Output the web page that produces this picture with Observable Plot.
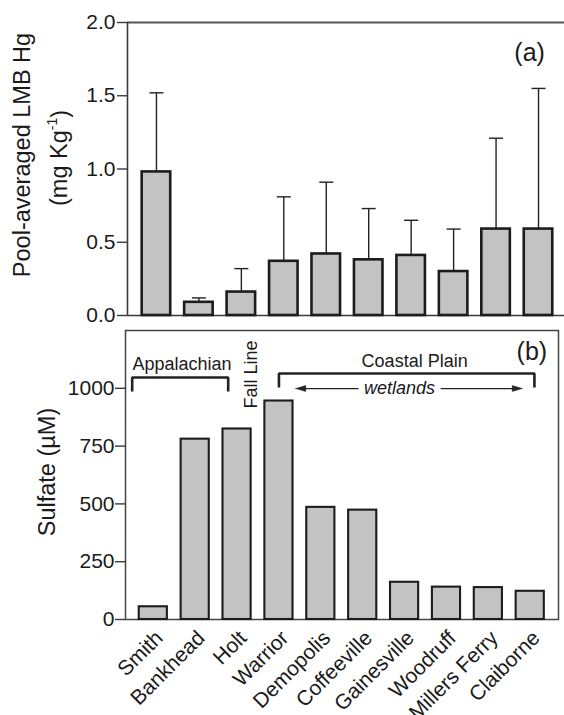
<!DOCTYPE html>
<html>
<head>
<meta charset="utf-8">
<script src="https://cdn.jsdelivr.net/npm/d3@7"></script>
<script src="https://cdn.jsdelivr.net/npm/@observablehq/plot@0.6"></script>
<style>
  html, body { margin: 0; padding: 0; background: #fff; }
  #chart { width: 564px; height: 715px; overflow: hidden; }
  #chart svg { display: block; }
</style>
</head>
<body>
<div id="chart"></div>
<script>
// ---- data ----
const sites = ["Smith", "Bankhead", "Holt", "Warrior", "Demopolis", "Coffeeville", "Gainesville", "Woodruff", "Millers Ferry", "Claiborne"];
const hgMean = [0.98, 0.09, 0.16, 0.37, 0.42, 0.38, 0.41, 0.30, 0.59, 0.59];
const hgSD   = [0.54, 0.03, 0.16, 0.44, 0.49, 0.35, 0.24, 0.29, 0.62, 0.96];
const sulfate = [55, 780, 824, 945, 485, 473, 161, 140, 138, 122];
const hgTicks = [0, 0.5, 1.0, 1.5, 2.0];
const sulfateTicks = [0, 250, 500, 750, 1000];

const rows = sites.map((site, i) => ({site, i, hg: hgMean[i], sd: hgSD[i], so4: sulfate[i]}));

// ---- styling ----
const FONT = "'Liberation Sans', Arial, Helvetica, sans-serif";
const BAR_FILL = "#c3c3c3";
const BAR_STROKE = "#1c1c1c";
const AXIS = "#3a3a3a";
const INK = "#1a1a1a";
const HALF = 0.336;      // half bar width in site-index units
const CAP = 0.165;       // half error cap width

// ---- panel (a) ----
const xDomA = [-0.682, 9.612];
const panelA = Plot.plot({
  width: 564, height: 322,
  marginLeft: 127, marginRight: 0, marginTop: 22, marginBottom: 7,
  x: {domain: xDomA, axis: null},
  y: {domain: [0, 2], axis: null},
  style: {fontFamily: FONT, color: INK, background: "transparent", overflow: "visible"},
  marks: [
    Plot.ruleY([2], {stroke: "#555", strokeWidth: 1.8}),
    Plot.ruleY([0], {stroke: AXIS, strokeWidth: 1.6}),
    Plot.ruleX([xDomA[0]], {stroke: AXIS, strokeWidth: 1.6}),
    Plot.axisY({ticks: hgTicks, tickFormat: d3.format(".1f"), tickSize: 10, tickPadding: 2, fontSize: 21, label: null, stroke: AXIS, strokeWidth: 1.4}),
    // error bars (upward only)
    Plot.link(rows, {x1: "i", x2: "i", y1: "hg", y2: d => d.hg + d.sd, stroke: "#222", strokeWidth: 1.4}),
    Plot.link(rows, {x1: d => d.i - CAP, x2: d => d.i + CAP, y1: d => d.hg + d.sd, y2: d => d.hg + d.sd, stroke: "#222", strokeWidth: 1.4}),
    Plot.rect(rows, {x1: d => d.i - HALF, x2: d => d.i + HALF, y1: 0, y2: "hg", fill: BAR_FILL, stroke: BAR_STROKE, strokeWidth: 2.6}),
    Plot.text(["(a)"], {x: 8.79, y: 1.795, fontSize: 25, textAnchor: "middle"})
  ]
});

// ---- panel (b) ----
const xDomB = [-0.664, 9.675];
const brackets = [
  {g: "App", x: -0.504, y: 986}, {g: "App", x: -0.504, y: 1047}, {g: "App", x: 1.788, y: 1047}, {g: "App", x: 1.788, y: 986},
  {g: "CP", x: 3.0, y: 1003}, {g: "CP", x: 3.0, y: 1064}, {g: "CP", x: 9.10, y: 1064}, {g: "CP", x: 9.10, y: 1003}
];
// wetlands arrow shafts and filled heads
const shafts = [
  {x1: 4.90, x2: 3.62, y: 999},
  {x1: 6.86, x2: 8.59, y: 999}
];
const heads = [
  {g: "L", x: 3.40, y: 999}, {g: "L", x: 3.64, y: 1012}, {g: "L", x: 3.64, y: 986}, {g: "L", x: 3.40, y: 999},
  {g: "R", x: 8.81, y: 999}, {g: "R", x: 8.57, y: 1012}, {g: "R", x: 8.57, y: 986}, {g: "R", x: 8.81, y: 999}
];
const notes = [
  {t: "Appalachian", x: 0.685, y: 1106, rotate: 0, italic: false},
  {t: "Coastal Plain", x: 6.24, y: 1119, rotate: 0, italic: false},
  {t: "wetlands", x: 5.88, y: 999, rotate: 0, italic: true},
  {t: "Fall Line", x: 2.34, y: 1060, rotate: -90, italic: false}
];

const panelB = Plot.plot({
  width: 564, height: 393,
  marginLeft: 125, marginRight: 6, marginTop: 8, marginBottom: 96,
  x: {domain: xDomB, axis: null},
  y: {domain: [0, 1250], axis: null},
  style: {fontFamily: FONT, color: INK, background: "transparent", overflow: "visible"},
  marks: [
    Plot.frame({stroke: "#444", strokeWidth: 1.5}),
    Plot.axisY({ticks: sulfateTicks, tickFormat: d3.format("d"), tickSize: 10, tickPadding: 1, fontSize: 21, label: null, stroke: AXIS, strokeWidth: 1.4}),
    Plot.rect(rows, {x1: d => d.i - HALF, x2: d => d.i + HALF, y1: 0, y2: "so4", fill: BAR_FILL, stroke: BAR_STROKE, strokeWidth: 2.1}),
    Plot.line(brackets, {x: "x", y: "y", z: "g", stroke: "#222", strokeWidth: 2.6, strokeLinejoin: "miter", strokeLinecap: "butt"}),
    Plot.link(shafts, {x1: "x1", x2: "x2", y1: "y", y2: "y", stroke: "#222", strokeWidth: 1.3}),
    Plot.line(heads, {x: "x", y: "y", z: "g", fill: "#222", stroke: "#222", strokeWidth: 0.5}),
    Plot.text(notes.filter(d => !d.italic && d.rotate === 0), {x: "x", y: "y", text: "t", fontSize: 18}),
    Plot.text(notes.filter(d => d.italic), {x: "x", y: "y", text: "t", fontSize: 18, fontStyle: "italic"}),
    Plot.text(notes.filter(d => d.rotate !== 0), {x: "x", y: "y", text: "t", fontSize: 18, rotate: -90}),
    Plot.text(["(b)"], {x: 9.04, y: 1159, fontSize: 25, textAnchor: "middle"}),
    Plot.text(rows, {x: "i", y: 0, text: "site", rotate: -45, textAnchor: "end", fontSize: 21, dx: 6, dy: 15})
  ]
});

const chart = document.getElementById("chart");
chart.append(panelA, panelB);

// axis titles (rotated), drawn as real SVG text
function title(svg, tx, ty, parts) {
  const t = d3.select(svg).append("text")
    .attr("transform", `translate(${tx},${ty}) rotate(-90)`)
    .attr("text-anchor", "middle")
    .attr("font-family", FONT)
    .attr("font-size", 23.5)
    .attr("fill", INK);
  for (const p of parts) {
    const s = t.append("tspan").text(p.text);
    if (p.size) s.attr("font-size", p.size);
    if (p.dy) s.attr("dy", p.dy);
  }
}
title(panelA, 30, 155, [{text: "Pool-averaged LMB Hg"}]);
title(panelA, 67, 158, [{text: "(mg Kg"}, {text: "-1", size: 14, dy: "-0.7em"}, {text: ")", dy: "0.45em"}]);
title(panelB, 55, 150, [{text: "Sulfate (µM)"}]);
</script>
</body>
</html>
